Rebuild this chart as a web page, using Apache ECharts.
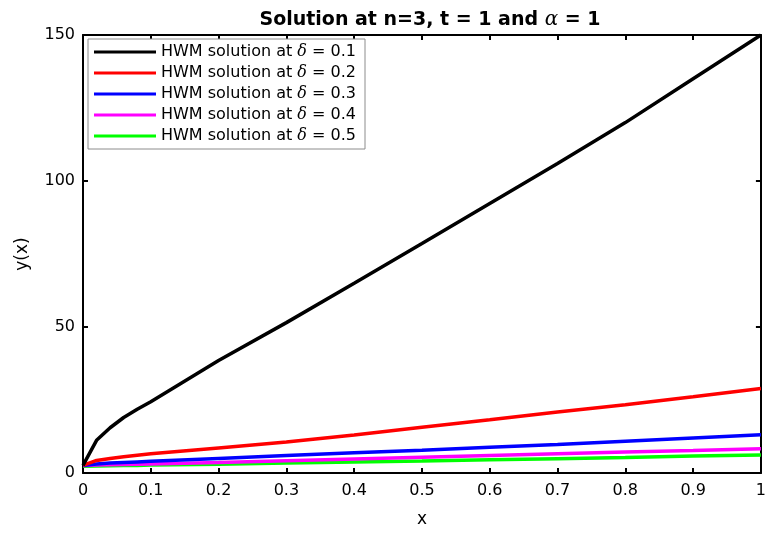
<!DOCTYPE html>
<html>
<head>
<meta charset="utf-8">
<script src="https://cdn.jsdelivr.net/npm/echarts@6/dist/echarts.min.js"></script>
<style>
  html, body { margin: 0; padding: 0; background: #fff; }
  #main { width: 769px; height: 533px; }
</style>
</head>
<body>
<div id="main"></div>
<script>
// x grid shared by all curves
var xs = [0, 0.02, 0.04, 0.06, 0.08, 0.1, 0.2, 0.3, 0.4, 0.5, 0.6, 0.7, 0.8, 0.9, 1.0];

// HWM solution values
var delta01 = [2.6, 11.2, 15.5, 19.0, 21.8, 24.4, 38.5, 51.5, 65.0, 78.6, 92.3, 106.0, 120.0, 135.0, 150.0];
var delta02 = [2.6, 4.3, 5.0, 5.6, 6.1, 6.6, 8.6, 10.6, 13.0, 15.7, 18.2, 20.9, 23.4, 26.1, 28.9];
var delta03 = [2.6, 3.1, 3.4, 3.6, 3.8, 4.0, 5.0, 6.0, 6.9, 7.8, 8.8, 9.8, 10.9, 12.0, 13.1];
var delta04 = [2.6, 2.7, 2.8, 2.9, 3.0, 3.1, 3.6, 4.2, 4.8, 5.4, 6.0, 6.6, 7.2, 7.7, 8.3];
var delta05 = [2.3, 2.4, 2.5, 2.6, 2.6, 2.7, 3.0, 3.4, 3.8, 4.1, 4.5, 4.9, 5.3, 5.8, 6.2];

var deltaLabels = ['0.1', '0.2', '0.3', '0.4', '0.5'];
var seriesData = [delta01, delta02, delta03, delta04, delta05];
var colors = ['#000000', '#ff0000', '#0000ff', '#ff00ff', '#00ff00'];

var font = 'DejaVu Sans, Arial, sans-serif';

function pairs(ys) {
  var out = [];
  for (var i = 0; i < xs.length; i++) out.push([xs[i], ys[i]]);
  return out;
}

var series = [];
var names = [];
for (var i = 0; i < seriesData.length; i++) {
  var name = 'HWM solution at δ = ' + deltaLabels[i];
  names.push(name);
  series.push({
    name: name,
    type: 'line',
    data: pairs(seriesData[i]),
    showSymbol: false,
    symbol: 'none',
    lineStyle: { width: 3.5, color: colors[i] },
    itemStyle: { color: colors[i] },
    z: 10 - i
  });
}

var chart = echarts.init(document.getElementById('main'));

var axisCommon = {
  axisLine: { show: true, onZero: false, lineStyle: { color: '#000', width: 2 } },
  axisTick: { show: true, inside: true, length: 5, lineStyle: { color: '#000', width: 2 } },
  splitLine: { show: false }
};

var option = {
  animation: false,
  backgroundColor: '#fff',
  title: {
    text: 'Solution at n=3, t = 1 and {a|α} = 1',
    left: 425,
    textAlign: 'center',
    top: 5,
    textStyle: {
      fontFamily: font,
      fontWeight: 'bold',
      fontSize: 19,
      color: '#000',
      rich: {
        a: { fontFamily: 'DejaVu Serif, serif', fontStyle: 'italic', fontWeight: 'normal', fontSize: 20, color: '#000' }
      }
    }
  },
  legend: {
    orient: 'vertical',
    left: 88,
    top: 39,
    data: names,
    icon: 'rect',
    itemWidth: 62,
    itemHeight: 3,
    itemGap: 5,
    padding: [5, 9, 5, 6],
    borderColor: '#8c8c8c',
    borderWidth: 1,
    backgroundColor: '#fff',
    formatter: function (n) {
      return n.replace('δ', '{d|δ}');
    },
    textStyle: {
      fontFamily: font,
      fontSize: 16,
      color: '#000',
      rich: {
        d: { fontFamily: 'DejaVu Serif, serif', fontStyle: 'italic', fontSize: 16, color: '#000' }
      }
    }
  },
  grid: { left: 83, right: 2, top: 35, bottom: 56, containLabel: false },
  xAxis: [
    Object.assign({
      type: 'value',
      min: 0, max: 1, interval: 0.1,
      name: 'x',
      nameLocation: 'middle',
      nameGap: 38,
      nameTextStyle: { fontFamily: font, fontSize: 17, color: '#000' },
      axisLabel: {
        fontFamily: font, fontSize: 16, color: '#000', margin: 10,
        formatter: function (v) { return String(Math.round(v * 10) / 10); }
      }
    }, axisCommon),
    Object.assign({
      type: 'value', position: 'top',
      min: 0, max: 1, interval: 0.1,
      axisLabel: { show: false }
    }, axisCommon)
  ],
  yAxis: [
    Object.assign({
      type: 'value',
      min: 0, max: 150, interval: 50,
      name: 'y(x)',
      nameLocation: 'middle',
      nameGap: 52,
      nameRotate: 90,
      nameTextStyle: { fontFamily: font, fontSize: 17, color: '#000' },
      axisLabel: { fontFamily: font, fontSize: 16, color: '#000', margin: 8 }
    }, axisCommon),
    Object.assign({
      type: 'value', position: 'right',
      min: 0, max: 150, interval: 50,
      axisLabel: { show: false }
    }, axisCommon)
  ],
  series: series
};

chart.setOption(option);
</script>
</body>
</html>
